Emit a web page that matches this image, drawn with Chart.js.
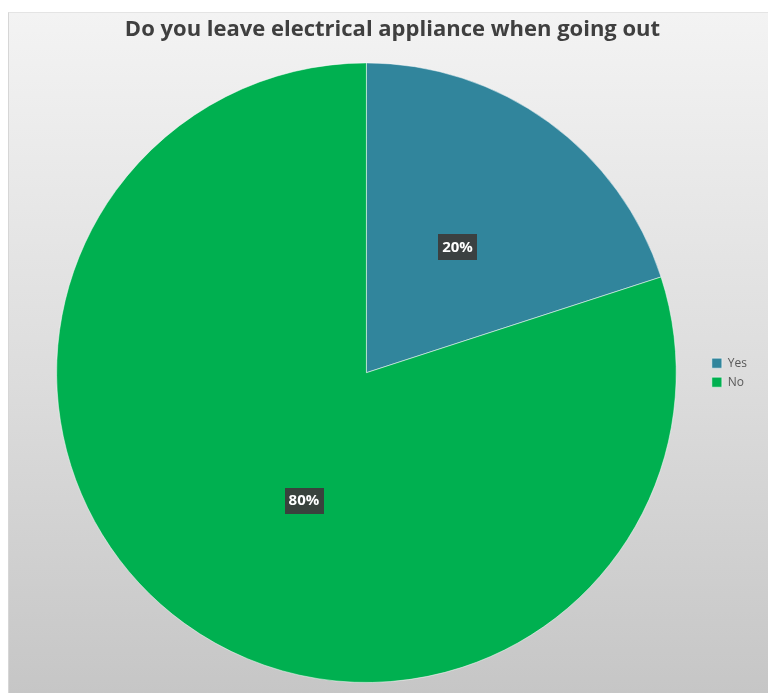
<!DOCTYPE html>
<html>
<head>
    <title>Do you leave electrical appliance when going out</title>
    <script src="https://cdn.jsdelivr.net/npm/chart.js"></script>
    <style>
        body {
            margin: 0;
            padding: 0;
            background-color: #ffffff;
        }

        .wrap {
            position: relative;
            width: 768px;
            height: 693px;
            overflow: hidden;
        }

        .panel {
            position: absolute;
            left: 8px;
            top: 12px;
            right: 0;
            bottom: 0;
            border-left: 1px solid #d6d6d6;
            border-top: 1px solid #e4e4e4;
            background: linear-gradient(#f3f3f3, #dcdcdc 55%, #c6c6c6);
        }

        canvas {
            position: absolute;
            left: 0;
            top: 0;
        }
    </style>
</head>
<body>
    <div class="wrap">
        <div class="panel"></div>
        <canvas id="myChart" width="768" height="693"></canvas>
    </div>
    <script>
        var categories = ['Yes', 'No'];
        var percents = [20, 80];
        var sliceColors = ['#31859c', '#00b050'];

        // dark boxes with the percent on each slice
        // (angle nudge in degrees and radius fraction, like excel's best fit)
        var pctLabels = {
            id: 'pctLabels',
            afterDatasetsDraw: function (chart, args, opts) {
                var ctx = chart.ctx;
                var meta = chart.getDatasetMeta(0);
                ctx.save();
                ctx.font = 'bold 15px "Open Sans"';
                ctx.textAlign = 'center';
                ctx.textBaseline = 'middle';
                meta.data.forEach(function (arc, i) {
                    var p = arc.getProps(['x', 'y', 'startAngle', 'endAngle', 'outerRadius']);
                    var place = opts.place[i];
                    var mid = (p.startAngle + p.endAngle) / 2 + place.nudge * Math.PI / 180;
                    var r = p.outerRadius * place.r;
                    var x = p.x + Math.cos(mid) * r;
                    var y = p.y + Math.sin(mid) * r;
                    var txt = percents[i] + '%';
                    var w = ctx.measureText(txt).width + 8;
                    var h = 26;
                    ctx.fillStyle = 'rgba(60,60,60,0.95)';
                    ctx.fillRect(Math.round(x - w / 2), Math.round(y - h / 2), Math.round(w), h);
                    ctx.fillStyle = '#ffffff';
                    ctx.fillText(txt, x, y);
                });
                ctx.restore();
            }
        };

        var ctx = document.getElementById('myChart').getContext('2d');
        var myChart = new Chart(ctx, {
            type: 'pie',
            data: {
                labels: categories,
                datasets: [{
                    data: percents,
                    backgroundColor: sliceColors,
                    borderColor: 'rgba(255,255,255,0.5)',
                    borderWidth: 1
                }]
            },
            options: {
                responsive: false,
                animation: false,
                layout: {
                    padding: { top: 12, left: 28, right: 11, bottom: 10 }
                },
                plugins: {
                    title: {
                        display: true,
                        text: 'Do you leave electrical appliance when going out',
                        color: '#3f3f3f',
                        font: { family: 'Open Sans', size: 22, weight: 'bold' },
                        padding: { top: 5, bottom: 19 }
                    },
                    legend: {
                        position: 'right',
                        fullSize: false,
                        labels: {
                            boxWidth: 10,
                            boxHeight: 10,
                            padding: 7,
                            color: '#595959',
                            font: { family: 'Open Sans', size: 12 }
                        }
                    },
                    pctLabels: {
                        place: [{ nudge: 0, r: 0.5 }, { nudge: -10, r: 0.46 }]
                    },
                    tooltip: { enabled: false }
                }
            },
            plugins: [pctLabels]
        });
    </script>
</body>
</html>
